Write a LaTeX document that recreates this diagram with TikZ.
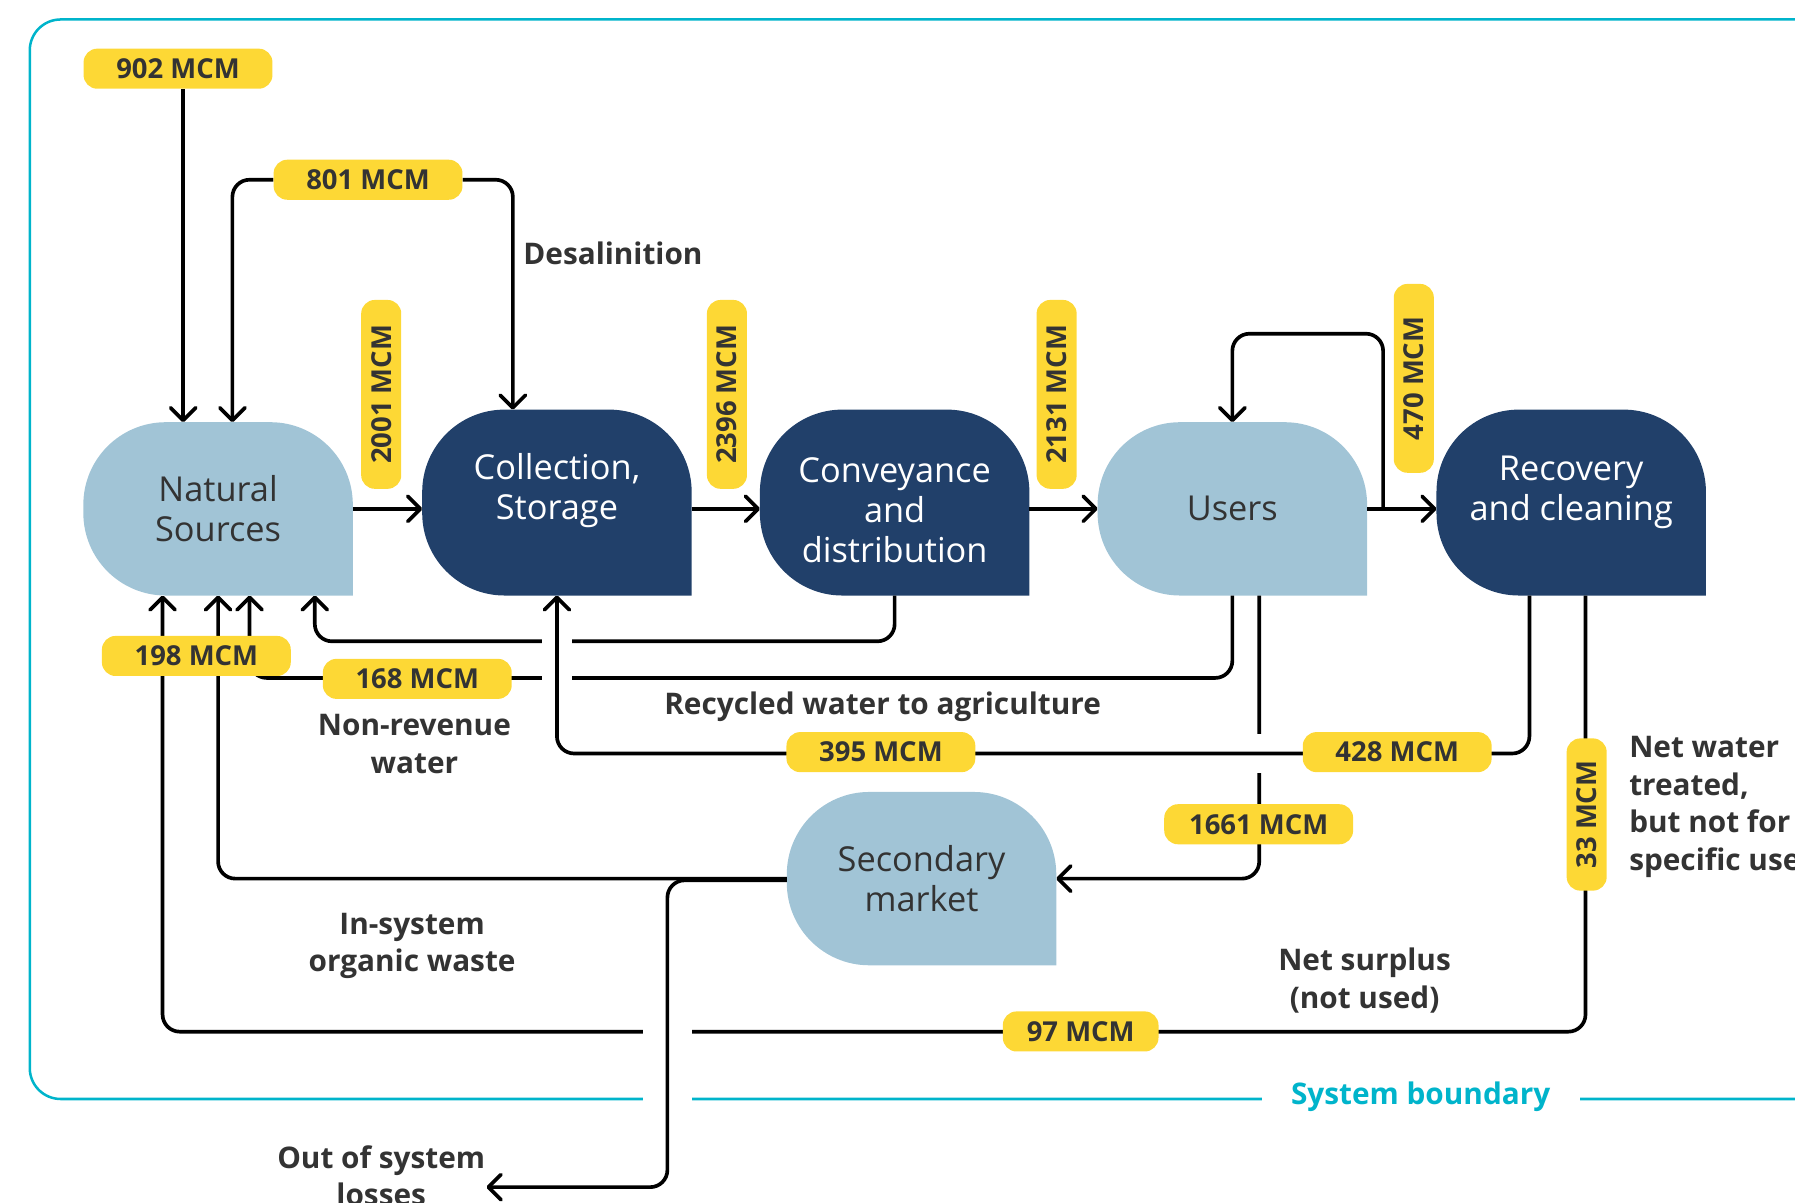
\documentclass[tikz,border=0pt]{standalone}
\usepackage{fontspec}
\setmainfont{Open Sans}
\usetikzlibrary{arrows.meta,calc}
\definecolor{lblue}{HTML}{A1C4D6}
\definecolor{navy}{HTML}{21406A}
\definecolor{ylw}{HTML}{FDD835}
\definecolor{txt}{HTML}{333333}
\definecolor{cyanb}{HTML}{00B4CB}
\pgfdeclarelayer{shapes}
\pgfdeclarelayer{fg}
\pgfsetlayers{shapes,main,fg}
\begin{document}
\begin{tikzpicture}[x=1pt,y=-1pt,
  proc/.style={rectangle, inner sep=0pt, minimum width=235pt, align=center, font=\fontsize{30}{35}\selectfont},
  lightproc/.style={proc, minimum height=151pt, text=txt},
  darkproc/.style={proc, minimum height=162pt, text=white},
  val/.style={fill=ylw, rounded corners=12pt, inner sep=0pt, minimum width=165pt, minimum height=35pt, text=txt, font=\bfseries\fontsize{24}{28}\selectfont},
  note/.style={text=txt, align=center, inner sep=0pt, font=\bfseries\fontsize{26}{32.7}\selectfont},
  flow/.style={line width=3.2pt, line join=round, rounded corners=15pt},
  arr/.style={flow, -{Straight Barb[length=11pt,width=22pt,round]}},
  halo/.style={white, line width=#1}
]
\useasboundingbox (0,0) rectangle (1568,1050);
\clip (0,0) rectangle (1568,1050);

% process nodes
\node[lightproc] (ns) at (190.5,444.5) {Natural\\Sources};
\node[darkproc]  (cs) at (486.5,439) {Collection,\\Storage\\[-18pt]\strut};
\node[darkproc]  (cd) at (781.5,439) {\strut\\[-25pt]Conveyance\\and\\distribution};
\node[lightproc] (us) at (1076.5,444.5) {Users};
\node[darkproc]  (rc) at (1372.5,439) {Recovery\\and cleaning\\[-20pt]\strut};
\node[lightproc] (sm) at (805,767.5) {Secondary\\market};

\begin{pgfonlayer}{shapes}
  \draw[cyanb, line width=2.2pt, rounded corners=27pt] (1700,17) -- (26,17) -- (26,960) -- (1700,960);
  \node[note, text=cyanb, fill=white, minimum width=278pt, minimum height=26pt] (tsysb) at (1241,958) {System boundary};
  \foreach \n/\c in {ns/lblue, cs/navy, cd/navy, us/lblue, rc/navy, sm/lblue}
    \fill[\c, rounded corners=72pt] (\n.south east) -- (\n.north east) -- (\n.north west) -- (\n.south west) -- (\n.south east);
\end{pgfonlayer}

% value labels (foreground)
\begin{pgfonlayer}{fg}
  \node[val] (l902) at (155.5,60) {902 MCM};
  \node[val] (l801) at (321.5,157) {801 MCM};
  \node[val, rotate=90] (l2001) at (333,344.5) {2001 MCM};
  \node[val, rotate=90] (l2396) at (635,344.5) {2396 MCM};
  \node[val, rotate=90] (l2131) at (923,344.5) {2131 MCM};
  \node[val, rotate=90] (l470) at (1235,330.5) {470 MCM};
  \node[val] (l198) at (171.5,573) {198 MCM};
  \node[val] (l168) at (364.5,593) {168 MCM};
  \node[val] (l395) at (769.5,657) {395 MCM};
  \node[val] (l428) at (1220.5,657) {428 MCM};
  \node[val] (l1661) at (1099.5,720) {1661 MCM};
  \node[val, rotate=90, minimum width=133pt] (l33) at (1386,711.5) {33 MCM};
  \node[val, minimum width=136pt] (l97) at (944,901) {97 MCM};
\end{pgfonlayer}

% text annotations
\node[note, anchor=west] (tdesal) at (457,221) {Desalinition};
\node[note] (tnonrev) at (362,650) {Non-revenue\\water};
\node[note] (trecyc) at (771,617) {Recycled water to agriculture};
\node[note] (tinsys) at (360,826.5) {In-system\\organic waste};
\node[note] (tnetsur) at (1192,856.5) {Net surplus\\(not used)};
\node[note, align=left, anchor=west] (tnetwat) at (1423,705) {Net water\\treated,\\but not for\\specific use};
\node[note] (tout) at (333,1027) {Out of system\\losses};

% attachment points
\coordinate (ns-i1) at ([xshift=-30.5pt]ns.north);
\coordinate (ns-i2) at ([xshift=12.5pt]ns.north);
\coordinate (cs-i)  at ([xshift=-38.5pt]cs.north);
\coordinate (ns-o1) at ([xshift=-48.5pt]ns.south);
\coordinate (ns-o2) at (ns.south);
\coordinate (ns-o3) at ([xshift=27.5pt]ns.south);
\coordinate (ns-o4) at ([xshift=84.5pt]ns.south);
\coordinate (rc-o1) at ([xshift=-36.5pt]rc.south);
\coordinate (rc-o2) at ([xshift=12.5pt]rc.south);
\coordinate (us-o2) at ([xshift=23.5pt]us.south);
\coordinate (j470)  at ([xshift=14pt]us.east);
\coordinate (k583)  at (583,1037);
\coordinate (outend) at (425,1037);

% connectors
\draw[arr] (l902.south -| ns-i1) -- (ns-i1);
\draw[arr] (l801.west) -| (ns-i2);
\draw[arr] (l801.east) -| (cs-i);
\draw[arr] (ns.east) -- (ns.east -| cs.west);
\draw[arr] (cs.east |- ns.east) -- (cd.west |- ns.east);
\draw[arr] (cd.east |- ns.east) -- (us.west);
\draw[arr] (us.east) -- (us.east -| rc.west);
\draw[arr] (j470) -- ++(0,-153) -| (us.north);
\draw[arr] (cd.south) -- ++(0,40) -| (ns-o4);
\draw[arr] (us.south) -- ++(0,72) -| (ns-o3);
\draw[arr] (sm.west) -| (ns-o2);
\draw[arr] (rc-o2) -- ++(0,381) -| (ns-o1);
\draw[arr] (us-o2) |- (sm.east);

% line jumps and crossing lines
\draw[halo=26pt] ($(cs.south)+(0,22)$) -- ($(cs.south)+(0,88)$);
\draw[halo=32pt] ($(us-o2)+(0,121)$) -- ($(us-o2)+(0,155)$);
\draw[arr] (rc-o1) -- ++(0,138) -| (cs.south);
\draw[halo=43pt] ($(k583)+(0,-245)$) -- ($(k583)+(0,-20)$);
\draw[arr] ([yshift=-1.5pt]sm.west) -| (k583) -- (outend);
\end{tikzpicture}
\end{document}
